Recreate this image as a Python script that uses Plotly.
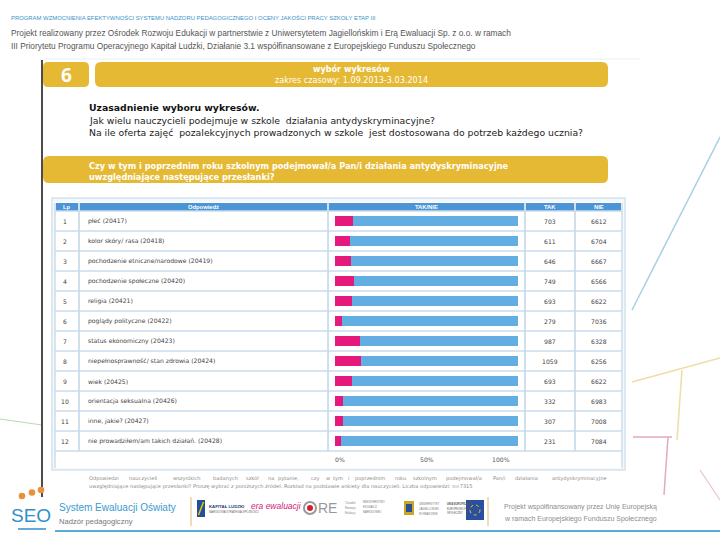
import plotly.graph_objects as go

# ---------------- data ----------------
lp = list(range(1, 13))
answers = [
    "płeć (20417)",
    "kolor skóry/ rasa (20418)",
    "pochodzenie etniczne/narodowe (20419)",
    "pochodzenie społeczne (20420)",
    "religia (20421)",
    "poglądy polityczne (20422)",
    "status ekonomiczny (20423)",
    "niepełnosprawność/ stan zdrowia (20424)",
    "wiek (20425)",
    "orientacja seksualna (20426)",
    "inne, jakie? (20427)",
    "nie prowadziłem/am takich działań. (20428)",
]
tak = [703, 611, 646, 749, 693, 279, 987, 1059, 693, 332, 307, 231]
nie = [6612, 6704, 6667, 6566, 6622, 7036, 6328, 6256, 6622, 6983, 7008, 7084]
tick_vals = [0, 50, 100]
tick_labels = ["0%", "50%", "100%"]
footnote_1 = ("Odpowiedzi nauczycieli wszystkich badanych szkół na pytanie, czy w tym i poprzednim roku "
              "szkolnym podejmował/a Pan/i działania antydyskryminacyjne")
footnote_2 = ("uwzględniające następujące przesłanki? Proszę wybrać z poniższych źródeł. "
              "Rozkład na podstawie ankiety dla nauczycieli. Liczba odpowiedzi: n=7315")

W, H = 720, 540
def px(x):
    return x / W
def py(y):
    return 1 - y / H

tak_pct = [t / (t + n) * 100 for t, n in zip(tak, nie)]
nie_pct = [n / (t + n) * 100 for t, n in zip(tak, nie)]

PINK = "#e5197b"
BLUE = "#62aee2"
YELLOW = "#e6b935"
HEAD = "#4b94d6"
GRID = "#c9dcec"
NARROW = "Liberation Sans Narrow, Arial Narrow, sans-serif"
SANS = "Open Sans, Liberation Sans, sans-serif"
ARIAL = "Liberation Sans, Arial, sans-serif"
DEJA = "DejaVu Sans, Verdana, sans-serif"

fig = go.Figure()
fig.add_trace(go.Bar(y=lp, x=tak_pct, orientation="h", marker_color=PINK,
                     marker_line_width=0, width=0.48, name="TAK", showlegend=False))
fig.add_trace(go.Bar(y=lp, x=nie_pct, orientation="h", marker_color=BLUE,
                     marker_line_width=0, width=0.48, name="NIE", showlegend=False))

shapes = []
ann = []

def rect(x0, y0, x1, y1, fill=None, line=None, lw=0, layer="below"):
    d = dict(type="rect", xref="paper", yref="paper", x0=px(x0), x1=px(x1),
             y0=py(y1), y1=py(y0), layer=layer, line=dict(width=lw, color=line or "rgba(0,0,0,0)"))
    if fill:
        d["fillcolor"] = fill
    shapes.append(d)

def line(x0, y0, x1, y1, color, w=1, layer="below"):
    shapes.append(dict(type="line", xref="paper", yref="paper", x0=px(x0), y0=py(y0),
                       x1=px(x1), y1=py(y1), line=dict(color=color, width=w), layer=layer))

def rounded(x0, y0, x1, y1, r, fill):
    X = lambda v: px(v)
    Y = lambda v: py(v)
    p = (f"M {X(x0+r)},{Y(y0)} L {X(x1-r)},{Y(y0)} Q {X(x1)},{Y(y0)} {X(x1)},{Y(y0+r)} "
         f"L {X(x1)},{Y(y1-r)} Q {X(x1)},{Y(y1)} {X(x1-r)},{Y(y1)} L {X(x0+r)},{Y(y1)} "
         f"Q {X(x0)},{Y(y1)} {X(x0)},{Y(y1-r)} L {X(x0)},{Y(y0+r)} Q {X(x0)},{Y(y0)} {X(x0+r)},{Y(y0)} Z")
    shapes.append(dict(type="path", xref="paper", yref="paper", path=p, fillcolor=fill,
                       line=dict(width=0), layer="below"))

def text(x, y, s, size=8, color="#333", family=SANS, xanchor="left", bold=False, italic=False, yref=None):
    if bold:
        s = f"<b>{s}</b>"
    if italic:
        s = f"<i>{s}</i>"
    ann.append(dict(x=px(x), y=py(y) if yref is None else y, xref="paper", yref=yref or "paper",
                    text=s, showarrow=False, xanchor=xanchor, yanchor="middle",
                    borderpad=0, font=dict(size=size, color=color, family=family)))

# ---------------- decoration ----------------
line(0, 419, 42, 425, "#b9d9b2", 1.2)
line(720, 137, 632, 310, "#a9d0e3", 1.5)
line(632, 382, 720, 358, "#f1dca5", 1.5)
line(682, 370, 677, 440, "#f1dca5", 1.5)
line(633, 437, 672, 437, "#e2aabb", 1.5)
line(668, 437, 664, 495, "#e2aabb", 1.5)
line(700, 470, 720, 500, "#e8c0c8", 1.2)
line(40, 59, 640, 59, "#eeeeee", 1)

# header texts
text(10, 18, "PROGRAM WZMOCNIENIA EFEKTYWNOŚCI SYSTEMU NADZORU PEDAGOGICZNEGO I OCENY JAKOŚCI PRACY SZKOŁY ETAP III",
     size=5.9, color="#3b93c9", family=NARROW)
text(10, 33, "Projekt realizowany przez Ośrodek Rozwoju Edukacji w partnerstwie z Uniwersytetem Jagiellońskim i Erą Ewaluacji Sp. z o.o. w ramach",
     size=8.3, color="#555", family=NARROW)
text(10, 46, "III Priorytetu Programu Operacyjnego Kapitał Ludzki, Działanie 3.1 współfinansowane z Europejskiego Funduszu Społecznego",
     size=8.3, color="#555", family=NARROW)

line(42, 60, 42, 497, "#111111", 1.5, layer="above")

rounded(43, 62, 89, 87, 5, YELLOW)
rounded(95, 62, 608, 87, 6, YELLOW)
text(66, 74.5, "6", size=19, color="white", family=SANS, xanchor="center", bold=True)
text(351, 68.5, "wybór wykresów", size=8.1, color="white", family=DEJA, xanchor="center", bold=True)
text(351, 80, "zakres czasowy: 1.09.2013-3.03.2014", size=8.1, color="white", family=DEJA, xanchor="center")

text(88, 108, "Uzasadnienie wyboru wykresów.", size=9.3, color="#111", family=DEJA, bold=True)
text(88, 120, "Jak wielu nauczycieli podejmuje w szkole  działania antydyskryminacyjne?", size=9.3, color="#222", family=DEJA)
text(88, 132, "Na ile oferta zajęć  pozalekcyjnych prowadzonych w szkole  jest dostosowana do potrzeb każdego ucznia?", size=9.3, color="#222", family=DEJA)

rounded(43, 156, 608, 183, 6, YELLOW)
text(88, 165.5, "Czy w tym i poprzednim roku szkolnym podejmował/a Pan/i działania antydyskryminacyjne", size=8.2, color="white", family=DEJA, bold=True)
text(88, 176.5, "uwzględniające następujące przesłanki?", size=8.2, color="white", family=DEJA, bold=True)

# ---------------- table ----------------
rect(52, 198, 625, 470, fill="#f4f8fb", line="#d3e2ee", lw=1.5)
rect(55, 202, 622, 451, fill="white")
cols = [55, 79, 328, 525, 575, 622]
heads = ["Lp", "Odpowiedź", "TAK/NIE", "TAK", "NIE"]
for i in range(5):
    rect(cols[i] + 1, 203, cols[i + 1] - 1, 211, fill=HEAD)
    text((cols[i] + cols[i + 1]) / 2, 207.2, heads[i], size=5.8, color="white", family=ARIAL,
         xanchor="center", bold=True)
rect(55, 451, 622, 468, fill="white")
for k in range(13):
    yy = 211 + 20 * k
    line(55, yy, 622, yy, GRID, 1.6)
for x in cols[1:-1]:
    line(x, 203, x, 451, GRID, 1.8)
line(55, 203, 55, 468, GRID, 1.4)
line(622, 203, 622, 468, GRID, 1.4)

for i in range(12):
    text(65, lp[i], str(lp[i]), size=6.1, color="#444", family=DEJA, xanchor="center", yref="y")
    text(87, lp[i], answers[i], size=6.1, color="#444", family=DEJA, yref="y")
    text(550, lp[i], str(tak[i]), size=6.1, color="#444", family=DEJA, xanchor="center", yref="y")
    text(598.5, lp[i], str(nie[i]), size=6.1, color="#444", family=DEJA, xanchor="center", yref="y")

anchors = ["left", "center", "right"]
shifts = [-2, 0, -6]
for v, lab, a, s in zip(tick_vals, tick_labels, anchors, shifts):
    ann.append(dict(x=v, y=py(459), xref="x", yref="paper", text=lab, showarrow=False,
                    xanchor=a, yanchor="middle", xshift=s,
                    font=dict(size=6.1, color="#555", family=DEJA)))

# footnote: first line justified across the table width (word by word)
words = footnote_1.split(" ")
total = len(footnote_1)
pos = 0
for wd in words:
    text(88 + pos / total * 532, 478, wd, size=5.1, color="#8a8a8a", family=DEJA)
    pos += len(wd) + 1
text(88, 486, footnote_2, size=5.1, color="#8a8a8a", family=DEJA)

# ---------------- footer ----------------
for cx, cy in [(22, 496), (32, 492.5), (41, 490)]:
    shapes.append(dict(type="circle", xref="paper", yref="paper", x0=px(cx - 3.3), x1=px(cx + 3.3),
                       y0=py(cy + 3.3), y1=py(cy - 3.3), fillcolor="#e8913a", line=dict(width=0)))
text(31, 515, "SEO", size=19, color="#2f8fcc", family=NARROW, xanchor="center")
line(18, 529, 46, 529, "#2f8fcc", 1.5)
text(58, 507, "System Ewaluacji Oświaty", size=10, color="#3b9ad0", family=ARIAL)
text(58, 521, "Nadzór pedagogiczny", size=7.6, color="#777", family=ARIAL)
line(55, 531, 720, 531, "#5aaad6", 2)

line(191, 497, 191, 526, "#e3b77a", 1)
line(488, 497, 488, 526, "#e3b77a", 1)
rect(197, 500, 205, 517, fill="#1f4f9d", layer="above")
line(198.5, 515, 203.5, 502, "#f2c100", 1.5, layer="above")
text(208, 506, "KAPITAŁ LUDZKI", size=4.3, color="#1f3f7d", family=ARIAL, bold=True)
text(208, 511, "NARODOWA STRATEGIA SPÓJNOŚCI", size=2.8, color="#666", family=ARIAL)
text(250, 506, "era ewaluacji", size=8.5, color="#d2187a", family=ARIAL, italic=True)
shapes.append(dict(type="circle", xref="paper", yref="paper", x0=px(304), x1=px(316),
                   y0=py(514), y1=py(502), fillcolor="white", line=dict(width=2, color="#999")))
shapes.append(dict(type="circle", xref="paper", yref="paper", x0=px(307), x1=px(313),
                   y0=py(511), y1=py(505), fillcolor="#d21f2b", line=dict(width=0)))
text(317, 508, "RE", size=14, color="#999", family=ARIAL)
text(344, 503, "Ośrodek", size=2.8, color="#888", family=ARIAL)
text(344, 508, "Rozwoju", size=2.8, color="#888", family=ARIAL)
text(344, 513, "Edukacji", size=2.8, color="#888", family=ARIAL)
text(362, 502, "MINISTERSTWO", size=2.8, color="#777", family=ARIAL)
text(362, 507, "EDUKACJI", size=2.8, color="#777", family=ARIAL)
text(362, 512, "NARODOWEJ", size=2.8, color="#777", family=ARIAL)
rect(404, 501, 414, 515, fill="#c9a62a", layer="above")
rect(406, 504, 412, 512, fill="#2a4f8f", layer="above")
text(418, 504, "UNIWERSYTET", size=2.8, color="#777", family=ARIAL)
text(418, 509, "JAGIELLOŃSKI", size=2.8, color="#777", family=ARIAL)
text(418, 514, "W KRAKOWIE", size=2.8, color="#777", family=ARIAL)
text(446, 504, "UNIA EUROPEJSKA", size=2.6, color="#555", family=ARIAL, bold=True)
text(446, 509, "EUROPEJSKI FUNDUSZ", size=2.6, color="#555", family=ARIAL)
text(446, 513, "SPOŁECZNY", size=2.6, color="#555", family=ARIAL)
rect(466, 500, 484, 520, fill="#2a4fa2", layer="above")
shapes.append(dict(type="circle", xref="paper", yref="paper", x0=px(470), x1=px(480),
                   y0=py(515), y1=py(505), line=dict(width=1, color="#f5d100", dash="dot")))
text(503, 507, "Projekt współfinansowany przez Unię Europejską", size=7.0, color="#8d8d8d", family=ARIAL)
text(503, 519, "w ramach Europejskiego Funduszu Społecznego", size=7.0, color="#8d8d8d", family=ARIAL)

fig.update_layout(
    width=W, height=H, autosize=False,
    margin=dict(l=0, r=0, t=0, b=0),
    paper_bgcolor="white", plot_bgcolor="rgba(0,0,0,0)",
    barmode="stack", bargap=0,
    shapes=shapes, annotations=ann,
    xaxis=dict(domain=[px(335), px(518)], range=[0, 100], showticklabels=False,
               showgrid=False, zeroline=False, showline=False, fixedrange=True),
    yaxis=dict(domain=[py(451), py(211)], range=[12.5, 0.5], showticklabels=False,
               showgrid=False, zeroline=False, showline=False, fixedrange=True),
    showlegend=False,
)

fig.write_html("out.html", config={"displayModeBar": False},
               post_script="document.body.style.margin='0';document.body.style.padding='0';")
